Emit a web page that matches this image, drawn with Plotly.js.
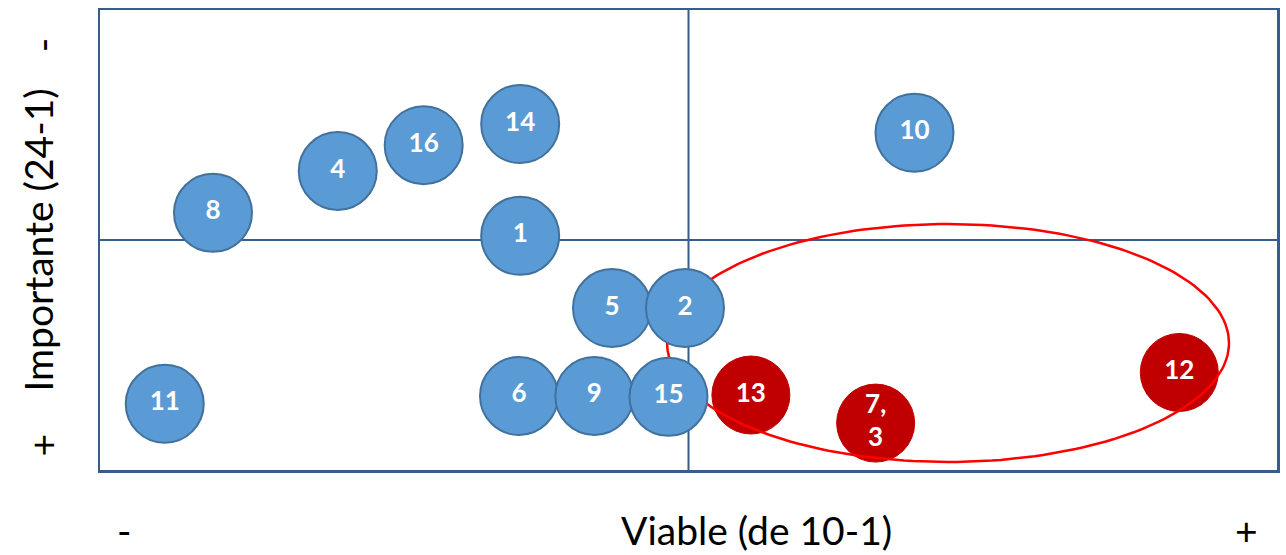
<!DOCTYPE html>
<html>
<head>
<meta charset="utf-8">
<script src="https://cdn.plot.ly/plotly-3.0.1.min.js"></script>
<style>html,body{margin:0;padding:0;background:#fff;}#chart{width:1286px;height:555px;}</style>
</head>
<body>
<div id="chart"></div>
<script>
// Blue items (x = viable, y = importance position on the matrix)
var blueLabels = ["8", "4", "16", "14", "1", "10", "5", "2", "11", "6", "9", "15"];
var blueX = [9.6, 20.2, 27.5, 35.7, 35.7, 69.2, 43.5, 49.7, 5.5, 35.6, 42.0, 48.3];
var blueY = [55.9, 65.0, 70.6, 75.2, 50.9, 73.3, 35.2, 35.2, 14.4, 16.1, 16.1, 15.9];

// Red (selected) items
var redLabels = ["13", "7,<br>3", "12"];
var redX = [55.3, 65.9, 91.7];
var redY = [16.3, 10.2, 21.2];

// Quadrant split
var quadX = 50;
var quadY = 50;

// Highlight ellipse: centre x, centre y, radius x, radius y
var ellipseParams = [72.05, 27.6, 23.87, 25.87];

var ex = [], ey = [];
for (var i = 0; i <= 200; i++) {
  var t = 2 * Math.PI * i / 200;
  ex.push(ellipseParams[0] + ellipseParams[2] * Math.cos(t));
  ey.push(ellipseParams[1] + ellipseParams[3] * Math.sin(t));
}

var labelFont = {family: "Lato, 'Noto Sans', sans-serif", size: 26, color: "#ffffff", weight: "bold"};

var traces = [
  {
    type: "scatter", mode: "markers+text",
    x: redX, y: redY, text: redLabels, textposition: "middle center",
    textfont: labelFont,
    marker: {size: 78, color: "#c00000", line: {color: "#c00000", width: 1}},
    cliponaxis: false, hoverinfo: "skip"
  },
  {
    type: "scatter", mode: "lines",
    x: ex, y: ey,
    line: {color: "#ff0000", width: 2.5},
    hoverinfo: "skip"
  },
  {
    type: "scatter", mode: "markers+text",
    x: blueX, y: blueY, text: blueLabels, textposition: "middle center",
    textfont: labelFont,
    marker: {size: 78, color: "#5b9bd5", line: {color: "#41719c", width: 2}},
    cliponaxis: false, hoverinfo: "skip"
  }
];

var axisCommon = {
  range: [0, 100], showgrid: false, zeroline: false, showticklabels: false,
  ticks: "", showline: true, mirror: true, linecolor: "#385d8a", linewidth: 2.5,
  fixedrange: true
};

var titleFont = {family: "Lato, 'Noto Sans', sans-serif", size: 39, color: "#000000"};

var layout = {
  width: 1286, height: 555,
  margin: {l: 100, r: 9, t: 10, b: 85},
  paper_bgcolor: "#ffffff", plot_bgcolor: "#ffffff",
  showlegend: false, hovermode: false,
  xaxis: Object.assign({}, axisCommon),
  yaxis: Object.assign({}, axisCommon),
  shapes: [
    {type: "line", xref: "x", yref: "paper", x0: quadX, x1: quadX, y0: 0, y1: 1, layer: "below",
     line: {color: "#385d8a", width: 2}},
    {type: "line", xref: "paper", yref: "y", x0: 0, x1: 1, y0: quadY, y1: quadY, layer: "below",
     line: {color: "#385d8a", width: 2}}
  ],
  annotations: [
    {text: "Viable (de 10-1)", xref: "paper", yref: "paper", x: 0.558, y: -0.13,
     xanchor: "center", yanchor: "middle", showarrow: false, font: titleFont},
    {text: "-", xref: "paper", yref: "paper", x: 0.0205, y: -0.13,
     xanchor: "center", yanchor: "middle", showarrow: false, font: titleFont},
    {text: "+", xref: "paper", yref: "paper", x: 0.9745, y: -0.13,
     xanchor: "center", yanchor: "middle", showarrow: false, font: titleFont},
    {text: "Importante (24-1)", xref: "paper", yref: "paper", x: -0.053, y: 0.5,
     xanchor: "center", yanchor: "middle", textangle: -90, showarrow: false, font: titleFont},
    {text: "-", xref: "paper", yref: "paper", x: -0.049, y: 0.924,
     xanchor: "center", yanchor: "middle", textangle: -90, showarrow: false, font: titleFont},
    {text: "+", xref: "paper", yref: "paper", x: -0.049, y: 0.054,
     xanchor: "center", yanchor: "middle", textangle: -90, showarrow: false, font: titleFont}
  ]
};

Plotly.newPlot("chart", traces, layout, {displayModeBar: false, staticPlot: true});
</script>
</body>
</html>
